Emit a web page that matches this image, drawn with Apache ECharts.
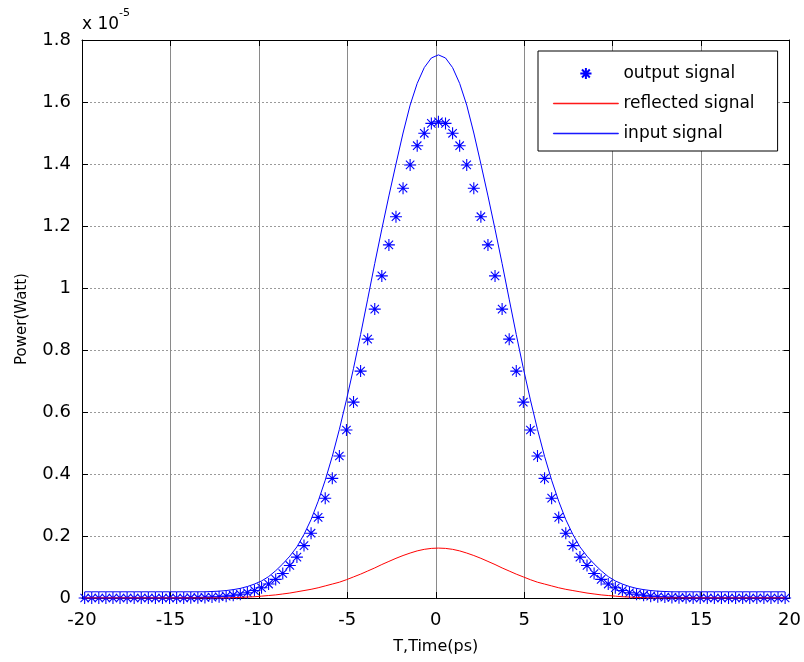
<!DOCTYPE html>
<html>
<head>
<meta charset="utf-8">
<script src="https://cdn.jsdelivr.net/npm/echarts@6/dist/echarts.min.js"></script>
<style>
html,body{margin:0;padding:0;background:#fff;}
#chart{width:804px;height:662px;}
</style>
</head>
<body>
<div id="chart"></div>
<script>
// Sample times (ps)
var timePs = [
-19.85,-19.45,-19.05,-18.65,-18.25,-17.85,-17.45,-17.05,-16.65,-16.25,
-15.85,-15.45,-15.05,-14.65,-14.25,-13.85,-13.45,-13.05,-12.65,-12.25,
-11.85,-11.45,-11.05,-10.65,-10.25,-9.85,-9.45,-9.05,-8.65,-8.25,
-7.85,-7.45,-7.05,-6.65,-6.25,-5.85,-5.45,-5.05,-4.65,-4.25,
-3.85,-3.45,-3.05,-2.65,-2.25,-1.85,-1.45,-1.05,-0.65,-0.25,
0.15,0.55,0.95,1.35,1.75,2.15,2.55,2.95,3.35,3.75,
4.15,4.55,4.95,5.35,5.75,6.15,6.55,6.95,7.35,7.75,
8.15,8.55,8.95,9.35,9.75,10.15,10.55,10.95,11.35,11.75,
12.15,12.55,12.95,13.35,13.75,14.15,14.55,14.95,15.35,15.75,
16.15,16.55,16.95,17.35,17.75,18.15,18.55,18.95,19.35,19.75];

// Power values in units of 1e-5 W
var outputSignal = [
0,0,0,0,0,0,0,0,0,0,
0,0,0,0,0,0.001,0.001,0.002,0.003,0.004,
0.006,0.009,0.012,0.017,0.024,0.033,0.045,0.060,0.079,0.105,
0.132,0.169,0.209,0.260,0.322,0.386,0.458,0.542,0.632,0.732,
0.835,0.932,1.039,1.139,1.230,1.322,1.397,1.459,1.499,1.531,
1.536,1.531,1.499,1.459,1.397,1.322,1.230,1.139,1.039,0.932,
0.835,0.732,0.632,0.542,0.458,0.386,0.322,0.260,0.209,0.169,
0.132,0.105,0.079,0.060,0.045,0.033,0.024,0.017,0.012,0.009,
0.006,0.004,0.003,0.002,0.001,0.001,0,0,0,0,
0,0,0,0,0,0,0,0,0,0];

var reflectedSignal = [
0,0,0,0,0,0,0,0,0,0,
0,0,0,0,0,0,0,0,0,0,
0,0.001,0.002,0.003,0.004,0.006,0.008,0.010,0.013,0.016,
0.020,0.024,0.028,0.033,0.039,0.045,0.051,0.059,0.068,0.077,
0.087,0.097,0.108,0.118,0.128,0.137,0.145,0.152,0.157,0.160,
0.161,0.160,0.157,0.152,0.145,0.137,0.128,0.118,0.108,0.097,
0.087,0.077,0.068,0.059,0.051,0.045,0.039,0.033,0.028,0.024,
0.020,0.016,0.013,0.010,0.008,0.006,0.004,0.003,0.002,0.001,
0,0,0,0,0,0,0,0,0,0,
0,0,0,0,0,0,0,0,0,0];

var inputSignal = [
0.020,0.020,0.020,0.020,0.020,0.020,0.020,0.020,0.020,0.020,
0.020,0.020,0.020,0.020,0.020,0.020,0.020,0.020,0.021,0.022,
0.024,0.027,0.031,0.037,0.045,0.055,0.069,0.088,0.110,0.135,
0.165,0.205,0.253,0.312,0.380,0.457,0.544,0.639,0.741,0.850,
0.964,1.079,1.190,1.297,1.400,1.500,1.590,1.660,1.711,1.742,
1.752,1.742,1.711,1.660,1.590,1.500,1.400,1.297,1.190,1.079,
0.964,0.850,0.741,0.639,0.544,0.457,0.380,0.312,0.253,0.205,
0.165,0.135,0.110,0.088,0.069,0.055,0.045,0.037,0.031,0.027,
0.024,0.022,0.021,0.020,0.020,0.020,0.020,0.020,0.020,0.020,
0.020,0.020,0.020,0.020,0.020,0.020,0.020,0.020,0.020,0.020];

var seriesNames = ['output signal', 'reflected signal', 'input signal'];
var xTitle = 'T,Time(ps)';
var yTitle = 'Power(Watt)';

function zip(t, v) { return t.map(function (x, i) { return [x, v[i]]; }); }

var FONT = 'DejaVu Sans';
var star = 'path://M5,0L5,10M0,5L10,5M1.5,1.5L8.5,8.5M1.5,8.5L8.5,1.5';
var thinLine = 'path://M0,0L65,0L65,0.6L0,0.6Z';

var chart = echarts.init(document.getElementById('chart'), null, {renderer: 'canvas'});
chart.setOption({
  animation: false,
  backgroundColor: '#fff',
  grid: {left: 82, right: 7, top: 40, bottom: 64},
  graphic: [{
    type: 'text', left: 82, top: 8,
    style: {
      text: '{a|x 10}{b|-5}',
      rich: {
        a: {fontSize: 17, fontFamily: FONT, fill: '#000', verticalAlign: 'bottom', padding: [8, 0, 0, 0]},
        b: {fontSize: 11, fontFamily: FONT, fill: '#000', verticalAlign: 'top'}
      }
    }
  }],
  legend: {
    orient: 'vertical', left: 538, top: 51,
    backgroundColor: '#fff', borderColor: '#000', borderWidth: 1,
    padding: [14, 23, 9, 15],
    itemWidth: 65, itemHeight: 14, itemGap: 13,
    textStyle: {fontSize: 17, fontFamily: FONT, color: '#000'},
    data: [
      {name: seriesNames[0]},
      {name: seriesNames[1], icon: thinLine,
        itemStyle: {color: '#ff0000', borderColor: '#ff0000', borderWidth: 0.8}},
      {name: seriesNames[2], icon: thinLine,
        itemStyle: {color: '#0000ff', borderColor: '#0000ff', borderWidth: 0.8}}
    ]
  },
  xAxis: [{
    type: 'value', position: 'bottom', min: -20, max: 20, interval: 5,
    axisLine: {show: true, onZero: false, lineStyle: {color: '#000', width: 1}},
    axisTick: {show: true, inside: true, length: 6, lineStyle: {color: '#000'}},
    axisLabel: {fontSize: 18, fontFamily: FONT, color: '#000', margin: 13},
    splitLine: {show: true, lineStyle: {color: '#8a8a8a', width: 1, type: 'solid'}},
    name: xTitle, nameLocation: 'middle', nameGap: 41,
    nameTextStyle: {fontSize: 16, fontFamily: FONT, color: '#000'}
  }, {
    type: 'value', position: 'top', min: -20, max: 20, interval: 5,
    axisLine: {show: true, onZero: false, lineStyle: {color: '#000', width: 1}},
    axisTick: {show: true, inside: true, length: 6, lineStyle: {color: '#000'}},
    axisLabel: {show: false}, splitLine: {show: false}
  }],
  yAxis: [{
    type: 'value', position: 'left', min: 0, max: 1.8, interval: 0.2,
    axisLine: {show: true, onZero: false, lineStyle: {color: '#000', width: 1}},
    axisTick: {show: true, inside: true, length: 6, lineStyle: {color: '#000'}},
    axisLabel: {fontSize: 18, fontFamily: FONT, color: '#000', margin: 11,
      formatter: function (v) { return String(Number(v.toFixed(1))); }},
    splitLine: {show: true, lineStyle: {color: '#9a9a9a', width: 1, type: [2, 2]}},
    name: yTitle, nameLocation: 'middle', nameGap: 52, nameRotate: 90,
    nameTextStyle: {fontSize: 15, fontFamily: FONT, color: '#000'}
  }, {
    type: 'value', position: 'right', min: 0, max: 1.8, interval: 0.2,
    axisLine: {show: true, onZero: false, lineStyle: {color: '#000', width: 1}},
    axisTick: {show: true, inside: true, length: 6, lineStyle: {color: '#000'}},
    axisLabel: {show: false}, splitLine: {show: false}
  }],
  series: [{
    name: seriesNames[0], type: 'line', xAxisIndex: 0, yAxisIndex: 0,
    data: zip(timePs, outputSignal),
    symbol: star, symbolSize: 12, showSymbol: true, showAllSymbol: true,
    lineStyle: {width: 0, opacity: 0},
    itemStyle: {color: '#0000ff', borderColor: '#0000ff', borderWidth: 1.1},
    silent: true, z: 2
  }, {
    name: seriesNames[1], type: 'line', xAxisIndex: 0, yAxisIndex: 0,
    data: zip(timePs, reflectedSignal),
    symbol: 'none', lineStyle: {color: '#ff0000', width: 1},
    itemStyle: {color: '#ff0000'}, silent: true, z: 3
  }, {
    name: seriesNames[2], type: 'line', xAxisIndex: 0, yAxisIndex: 0,
    data: zip(timePs, inputSignal),
    symbol: 'none', lineStyle: {color: '#0000ff', width: 1},
    itemStyle: {color: '#0000ff'}, silent: true, z: 4
  }]
});
</script>
</body>
</html>
